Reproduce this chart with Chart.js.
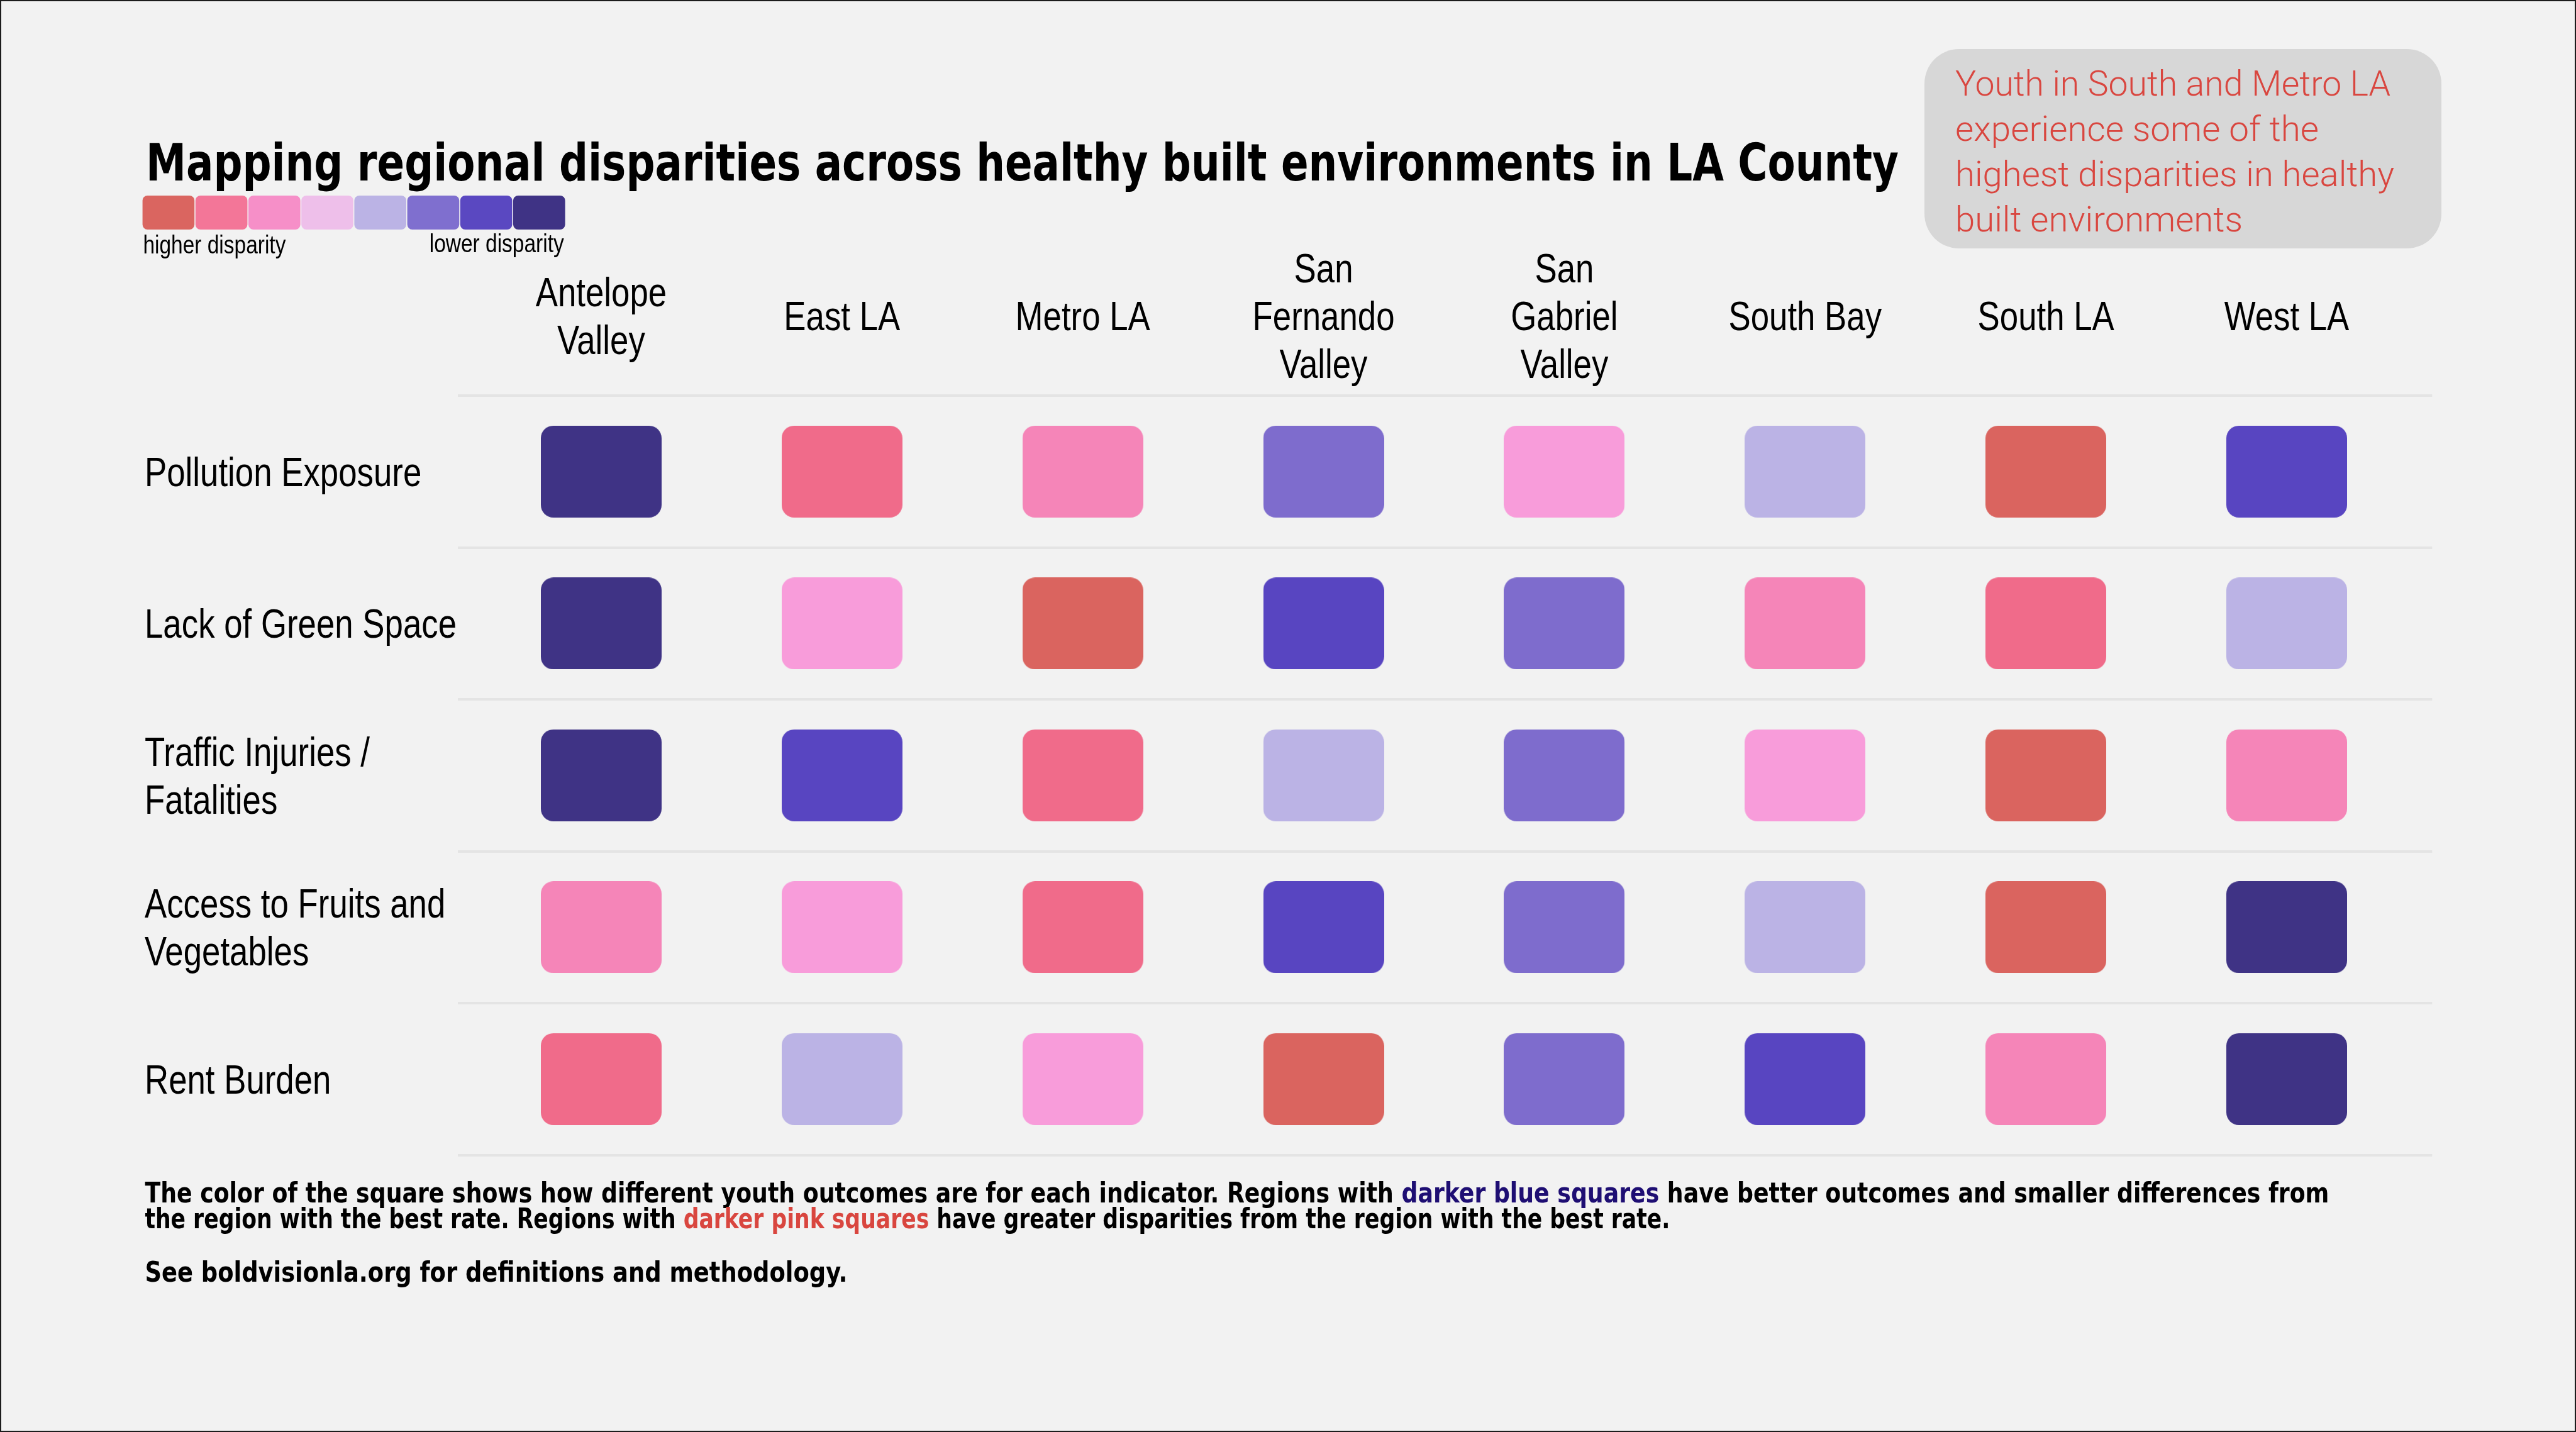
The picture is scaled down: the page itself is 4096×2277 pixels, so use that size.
<!DOCTYPE html>
<html><head><meta charset="utf-8">
<script src="https://cdn.jsdelivr.net/npm/chart.js@4.4.1/dist/chart.umd.min.js"></script>
<style>html,body{margin:0;padding:0;background:#f2f2f2;overflow:hidden}canvas{display:block}</style>
</head><body>
<canvas id="c" width="4096" height="2277" style="width:4096px;height:2277px"></canvas>
<script>
// ---------- data ----------
const regions = ['Antelope\nValley','East LA','Metro LA','San\nFernando\nValley','San\nGabriel\nValley','South Bay','South LA','West LA'];
const indicators = ['Pollution Exposure','Lack of Green Space','Traffic Injuries /\nFatalities','Access to Fruits and\nVegetables','Rent Burden'];
// disparity level per region: 1 = highest disparity ... 8 = lowest disparity
const pollution  = [8,2,3,6,4,5,1,7];
const greenSpace = [8,4,1,7,6,3,2,5];
const traffic    = [8,7,2,5,6,4,1,3];
const fruitsVeg  = [3,4,2,7,6,5,1,8];
const rentBurden = [2,5,4,1,6,7,3,8];
const cellColors   = ['#DA645F','#F06B8A','#F585B8','#F89CDA','#BBB3E5','#7E6CCD','#5845C1','#3F3385'];
const legendColors = ['#DA6560','#F37698','#F68FC8','#EEBFEA','#BBB3E5','#7F6FCF','#5A48C1','#3F3385'];
const legendLabels = ['higher disparity','lower disparity'];
const titleText = 'Mapping regional disparities across healthy built environments in LA County';
const calloutLines = ['Youth in South and Metro LA','experience some of the','highest disparities in healthy','built environments'];
const noteLine1 = ['The color of the square shows how different youth outcomes are for each indicator. Regions with ','darker blue squares',' have better outcomes and smaller differences from'];
const noteLine2 = ['the region with the best rate. Regions with ','darker pink squares',' have greater disparities from the region with the best rate.'];
const noteLine3 = ['See boldvisionla.org for definitions and methodology.'];

// ---------- fonts ----------
function hasFont(f){
  const c=document.createElement('canvas').getContext('2d');
  const s='abcdefghijklmnopqrstuvwxyzABCDEFG';
  c.font='60px monospace'; const a=c.measureText(s).width;
  c.font='60px "'+f+'", monospace'; const b=c.measureText(s).width;
  return Math.abs(a-b)>0.5;
}
const BOLDF = hasFont('DejaVu Sans Condensed') ? '"DejaVu Sans Condensed"' : '"Liberation Sans"';
const LABELF = '"Liberation Sans"';
const LIGHT = hasFont('Roboto') ? 'Roboto' : 'Lato';
const CONDENSE = 0.81;   // Arial-Narrow-like horizontal condensing for axis labels

// ---------- tiles ----------
function makeTile(color){
  const c=document.createElement('canvas'); c.width=192; c.height=146;
  const g=c.getContext('2d'); g.fillStyle=color; g.beginPath(); g.roundRect(0,0,192,146,20); g.fill();
  return c;
}
const tiles = cellColors.map(makeTile);

const rows = [pollution, greenSpace, traffic, fruitsVeg, rentBurden];
const datasets = rows.map((levels, r) => ({
  label: indicators[r],
  levels: levels,
  data: levels.map((lv, i) => ({x: i, y: indicators[r]})),
  pointStyle: ctx => tiles[ctx.dataset.levels[ctx.dataIndex]-1],
  pointRadius: 2, pointHoverRadius: 2,
  backgroundColor: 'transparent', borderColor: 'transparent'
}));

// ---------- text helpers ----------
let condenseOn = false;
const origFill = CanvasRenderingContext2D.prototype.fillText;
CanvasRenderingContext2D.prototype.fillText = function(t, x, y, mw){
  if (condenseOn && mw === undefined) return origFill.call(this, t, x, y, this.measureText(t).width * CONDENSE);
  return mw === undefined ? origFill.call(this, t, x, y) : origFill.call(this, t, x, y, mw);
};
function fitText(ctx, segs, x, y, targetW, font){
  ctx.font = font;
  let total = 0; segs.forEach(s => total += ctx.measureText(s[0]).width);
  const sx = targetW/total;
  ctx.save(); ctx.translate(x,y); ctx.scale(sx,1);
  ctx.textBaseline='alphabetic'; ctx.textAlign='left';
  let cx=0;
  segs.forEach(s => { ctx.fillStyle=s[1]; origFill.call(ctx, s[0], cx, 0); cx+=ctx.measureText(s[0]).width; });
  ctx.restore();
}
const deco = {
  id:'deco',
  beforeDraw(chart){
    const ctx=chart.ctx; ctx.save();
    ctx.fillStyle='#f2f2f2'; ctx.fillRect(0,0,4096,2277);
    ctx.restore();
    condenseOn = true;   // axis tick labels are drawn after this hook
  },
  afterDraw(chart){
    condenseOn = false;
    const ctx=chart.ctx; ctx.save();
    // title
    fitText(ctx, [[titleText,'#000']], 232, 286.5, 2787, `bold 82px ${BOLDF}`);
    // legend
    legendColors.forEach((c,i)=>{
      ctx.fillStyle=c; ctx.beginPath(); ctx.roundRect(226.6+i*84.2, 311, 82.6, 54, 8); ctx.fill();
    });
    fitText(ctx, [[legendLabels[0],'#000']], 227.4, 403, 227, `41px ${LABELF}`);
    fitText(ctx, [[legendLabels[1],'#000']], 896.7-214, 401, 214, `41px ${LABELF}`);
    // callout
    ctx.fillStyle='#d7d7d7'; ctx.beginPath(); ctx.roundRect(3060, 78, 822, 317, 55); ctx.fill();
    const cw=[692,578,698,457];
    calloutLines.forEach((t,i)=>fitText(ctx, [[t,'#D9463F']], 3109, 151.6+i*72, cw[i], `300 56px ${LIGHT}`));
    // notes
    fitText(ctx, [[noteLine1[0],'#000'],[noteLine1[1],'#1E0E73'],[noteLine1[2],'#000']], 230.4, 1911.7, 3473, `bold 44px ${BOLDF}`);
    fitText(ctx, [[noteLine2[0],'#000'],[noteLine2[1],'#D9463F'],[noteLine2[2],'#000']], 230.4, 1953.4, 2425, `bold 44px ${BOLDF}`);
    fitText(ctx, [[noteLine3[0],'#000']], 230.4, 2037.5, 1117, `bold 44px ${BOLDF}`);
    // frame
    ctx.fillStyle='#1c1c1c';
    ctx.fillRect(0,0,4096,2); ctx.fillRect(0,2275,4096,2); ctx.fillRect(0,0,2,2277); ctx.fillRect(4094,0,2,2277);
    ctx.restore();
  }
};

new Chart(document.getElementById('c'), {
  type: 'scatter',
  data: { datasets },
  plugins: [deco],
  options: {
    responsive: false, animation: false, devicePixelRatio: 1, events: [],
    layout: { padding: { left: 230, right: 228.7, top: 0, bottom: 440.4 } },
    plugins: { legend: { display: false }, tooltip: { enabled: false } },
    scales: {
      x: {
        type: 'linear', position: 'top', min: -0.596, max: 7.604,
        afterBuildTicks: s => { s.ticks = regions.map((_, i) => ({ value: i })); },
        afterFit: s => { s.height = 629.1; },
        grid: { display: false }, border: { display: false },
        ticks: {
          autoSkip: false, maxRotation: 0, minRotation: 0, crossAlign: 'center', padding: 38.2,
          color: '#000', font: { family: LABELF, size: 65.2, lineHeight: 1.1626 },
          callback: v => regions[v] ? regions[v].split('\n') : ''
        }
      },
      y: {
        type: 'category', labels: indicators, offset: true, position: 'left',
        afterFit: s => { s.width = 497.7; },
        grid: { offset: true, color: '#e4e4e4', lineWidth: 4, drawTicks: false },
        border: { display: false },
        ticks: {
          crossAlign: 'far', padding: 0, color: '#000', labelOffset: 5,
          font: { family: LABELF, size: 65.2, lineHeight: 1.1626 },
          callback: function(v){ return this.getLabelForValue(v).split('\n'); }
        }
      }
    }
  }
});
</script>
</body></html>
